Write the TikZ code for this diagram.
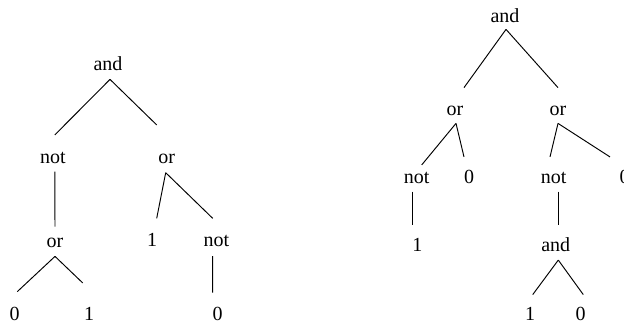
\documentclass[tikz,border=0pt]{standalone}
\usepackage{fontspec}
\setmainfont{Liberation Serif}
\usetikzlibrary{calc}

\tikzstyle{term}=[inner sep=0pt,anchor=base,text height=13.65pt,text depth=4.2pt,font=\fontsize{10.5}{12}\selectfont]
\tikzstyle{branch}=[line width=0.5pt]

\begin{document}
\begin{tikzpicture}[x=0.525pt,y=-0.525pt]
		\useasboundingbox (0,0) rectangle (624,322);
		% left tree
		\node[term] (la) at (108,70) {and};
		\node[term] (lnot) at (52.8,163.3) {not};
		\node[term] (lor) at (166.7,163.3) {or};
		\node[term] (lor2) at (55,247) {or};
		\node[term] (l1) at (152,246.7) {1};
		\node[term] (lnot2) at (216.3,246.7) {not};
		\node[term] (l0a) at (14.7,320) {0};
		\node[term] (l1b) at (89,320) {1};
		\node[term] (l0b) at (217.5,320) {0};
		\draw[branch] ($(la.south)+(2,1)$) -- ($(lnot.north)+(2,-2)$);
		\draw[branch] ($(la.south)+(2,1)$) -- ($(lor.north)+(-10,-12)$);
		\draw[branch] ($(lnot.south)+(2,0)$) -- ($(lor2.north)+(0,6)$);
		\draw[branch] ($(lor.south)+(-1,1)$) -- ($(l1.north)+(4.7,-2)$);
		\draw[branch] ($(lor.south)+(-1,1)$) -- ($(lnot2.north)+(-3.6,-2)$);
		\draw[branch] ($(lor2.south)+(0,1)$) -- ($(l0a.north)+(2.6,-2)$);
		\draw[branch] ($(lor2.south)+(0,1)$) -- ($(l1b.north)+(-6.3,-10.7)$);
		\draw[branch] ($(lnot2.south)+(-3.6,1)$) -- ($(l0b.north)+(-4.8,-1)$);
		% right tree
		\node[term] (ra) at (505,22) {and};
		\node[term] (ror1) at (455,115) {or};
		\node[term] (ror2) at (558,115) {or};
		\node[term] (rnot1) at (416.7,183.3) {not};
		\node[term] (r0a) at (469,183.3) {0};
		\node[term] (rnot2) at (553.7,183.3) {not};
		\node[term] (r0b) at (624.5,183.3) {0};
		\node[term] (r1) at (417.3,251.7) {1};
		\node[term] (rand2) at (555.7,251.7) {and};
		\node[term] (r1b) at (530,320) {1};
		\node[term] (r0c) at (580.5,320) {0};
		\draw[branch] ($(ra.south)+(1,-1)$) -- ($(ror1.north)+(9,-1)$);
		\draw[branch] ($(ra.south)+(1,-1)$) -- ($(ror2.north)+(0,-1)$);
		\draw[branch] ($(ror1.south)+(1,0)$) -- ($(rnot1.north)+(5,8)$);
		\draw[branch] ($(ror1.south)+(1,0)$) -- ($(r0a.north)+(-5,0)$);
		\draw[branch] (ror2.south) -- ($(rnot2.north)+(-3.7,0)$);
		\draw[branch] (ror2.south) -- ($(r0b.north)+(-14.5,0)$);
		\draw[branch] ($(rnot1.south)+(-4,0)$) -- ($(r1.north)+(-4.6,0)$);
		\draw[branch] ($(rnot2.south)+(4.6,0)$) -- ($(rand2.north)+(2.6,0)$);
		\draw[branch] ($(rand2.south)+(2.6,0)$) -- ($(r1b.north)+(2.7,1)$);
		\draw[branch] ($(rand2.south)+(2.6,0)$) -- ($(r0c.north)+(2.8,1)$);
\end{tikzpicture}
\end{document}
